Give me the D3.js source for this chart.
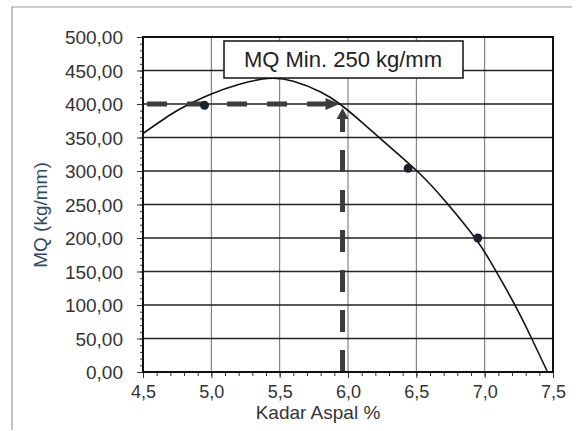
<!DOCTYPE html>
<html lang="id">
<meta charset="utf-8" />
<style>
  body { margin: 0; background: #fff; }
  text { font-family: "Liberation Sans", Arial, sans-serif; }
</style>
<svg width="581" height="431"></svg>
<script src="https://d3js.org/d3.v7.min.js"></script>
<script>
// data
var kadar = [4.95, 6.44, 6.95];          // kadar aspal %
var mq = [398, 304, 200];                // MQ (kg/mm)

// garis trend
var trendX = [4.5, 4.7, 4.84, 5.0, 5.2, 5.41, 5.6, 5.8, 5.94, 6.1, 6.3, 6.52, 6.72, 6.93, 7.05, 7.2, 7.33, 7.46];
var trendY = [356, 384, 400, 415, 429, 438, 434, 418, 400, 373, 337, 297, 253, 200, 162, 108, 56, 0];

var targetX = 5.96, targetY = 400;       // titik panah
var xTicks = [4.5, 5.0, 5.5, 6.0, 6.5, 7.0, 7.5];
var yTicks = [0, 50, 100, 150, 200, 250, 300, 350, 400, 450, 500];
var legendText = "MQ Min. 250 kg/mm";

var svg = d3.select("svg"),
    pL = 143, pR = 553, pT = 37, pB = 372;

var x = d3.scaleLinear().domain([4.5, 7.5]).range([pL, pR]);
var y = d3.scaleLinear().domain([0, 500]).range([pB, pT]);

var id = d3.formatLocale({decimal: ",", thousands: ".", grouping: [3], currency: ["", ""]});
var fx = id.format(".1f"), fy = id.format(".2f");

// bingkai luar
svg.append("path")
    .attr("d", "M12,430 L12,7 L572,7")
    .attr("fill", "none")
    .attr("stroke", "#999")
    .attr("stroke-width", 1.2);

// grid
svg.append("g").selectAll("line")
  .data(xTicks)
  .enter().append("line")
    .attr("x1", d => x(d)).attr("x2", d => x(d))
    .attr("y1", pT).attr("y2", pB)
    .attr("stroke", "#6a6a6a").attr("stroke-width", 1);

svg.append("g").selectAll("line")
  .data(yTicks)
  .enter().append("line")
    .attr("x1", pL).attr("x2", pR)
    .attr("y1", d => y(d)).attr("y2", d => y(d))
    .attr("stroke", "#222").attr("stroke-width", 1.4);

// sumbu
var gx = svg.append("g").attr("transform", "translate(0," + pB + ")");
gx.call(d3.axisBottom(x).tickValues(d3.range(45, 76).map(d => d / 10)).tickSize(4).tickFormat(""));
gx.append("g").call(d3.axisBottom(x).tickValues(xTicks).tickSize(6).tickFormat(fx));
gx.selectAll("text").attr("font-size", 18).attr("fill", "#333").attr("dy", "0.95em");

var gy = svg.append("g").attr("transform", "translate(" + pL + ",0)");
gy.call(d3.axisLeft(y).tickValues(d3.range(0, 501, 10)).tickSize(3).tickFormat(""));
gy.append("g").call(d3.axisLeft(y).tickValues(yTicks).tickSize(6).tickPadding(14).tickFormat(fy));
gy.selectAll("text").attr("font-size", 19).attr("fill", "#333").attr("dy", "0.36em");

svg.selectAll(".domain").remove();
svg.selectAll(".tick line").attr("stroke", "#333");

// kurva
var pts = trendX.map((d, i) => [d, trendY[i]]);
svg.append("path")
    .datum(pts)
    .attr("fill", "none")
    .attr("stroke", "#111")
    .attr("stroke-width", 1.6)
    .attr("d", d3.line().x(d => x(d[0])).y(d => y(d[1])).curve(d3.curveNatural));

// panah putus-putus
var arrowCol = "#3c3c3c";
svg.append("line")
    .attr("x1", x(4.5) + 4).attr("x2", x(targetX) - 14)
    .attr("y1", y(targetY)).attr("y2", y(targetY))
    .attr("stroke", arrowCol).attr("stroke-width", 5)
    .attr("stroke-dasharray", "20,20");
svg.append("path")
    .attr("d", "M" + (x(targetX) - 3) + "," + y(targetY) +
               " l-14,-6 l0,12 z")
    .attr("fill", arrowCol);

svg.append("line")
    .attr("x1", x(targetX)).attr("x2", x(targetX))
    .attr("y1", y(0)).attr("y2", y(targetY) + 14)
    .attr("stroke", arrowCol).attr("stroke-width", 5)
    .attr("stroke-dasharray", "22,18");
svg.append("path")
    .attr("d", "M" + x(targetX) + "," + (y(targetY) + 4) +
               " l-6,11 l12,0 z")
    .attr("fill", arrowCol);

// titik data
svg.append("g").selectAll("circle")
  .data(kadar)
  .enter().append("circle")
    .attr("cx", d => x(d))
    .attr("cy", (d, i) => y(mq[i]))
    .attr("r", 4.5)
    .attr("fill", "#1c2230");

// garis tepi plot
svg.append("rect")
    .attr("x", pL).attr("y", pT)
    .attr("width", pR - pL).attr("height", pB - pT)
    .attr("fill", "none").attr("stroke", "#111").attr("stroke-width", 2);

// legenda
var lg = svg.append("g");
lg.append("rect")
    .attr("x", 224).attr("y", 41).attr("width", 239).attr("height", 37)
    .attr("fill", "#fff").attr("stroke", "#111").attr("stroke-width", 1.5);
lg.append("text")
    .attr("x", 343).attr("y", 67)
    .attr("text-anchor", "middle")
    .attr("font-size", 22)
    .attr("fill", "#222")
    .text(legendText);

// judul sumbu
svg.append("text")
    .attr("x", 318).attr("y", 419)
    .attr("text-anchor", "middle")
    .attr("font-size", 19)
    .attr("fill", "#333")
    .text("Kadar Aspal %");

svg.append("text")
    .attr("transform", "translate(47,215) rotate(-90)")
    .attr("text-anchor", "middle")
    .attr("font-size", 19)
    .attr("fill", "#2e4a66")
    .text("MQ (kg/mm)");
</script>
</html>
